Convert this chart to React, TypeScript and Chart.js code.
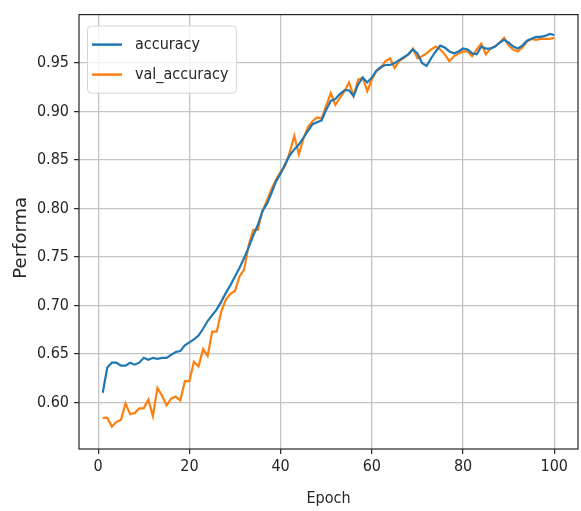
import React, { useEffect, useRef } from "react";
import { Chart, registerables } from "chart.js";

Chart.register(...registerables);

const epochs = [
  1, 2, 3, 4, 5, 6, 7, 8, 9, 10,
  11, 12, 13, 14, 15, 16, 17, 18, 19, 20,
  21, 22, 23, 24, 25, 26, 27, 28, 29, 30,
  31, 32, 33, 34, 35, 36, 37, 38, 39, 40,
  41, 42, 43, 44, 45, 46, 47, 48, 49, 50,
  51, 52, 53, 54, 55, 56, 57, 58, 59, 60,
  61, 62, 63, 64, 65, 66, 67, 68, 69, 70,
  71, 72, 73, 74, 75, 76, 77, 78, 79, 80,
  81, 82, 83, 84, 85, 86, 87, 88, 89, 90,
  91, 92, 93, 94, 95, 96, 97, 98, 99, 100,
];

const accuracy = [
  0.610, 0.636, 0.641, 0.641, 0.638, 0.638, 0.641, 0.639, 0.641, 0.646,
  0.644, 0.646, 0.645, 0.646, 0.646, 0.649, 0.652, 0.653, 0.659, 0.662,
  0.665, 0.669, 0.676, 0.684, 0.690, 0.696, 0.704, 0.713, 0.721, 0.730,
  0.739, 0.749, 0.760, 0.772, 0.783, 0.797, 0.805, 0.816, 0.828, 0.836,
  0.846, 0.855, 0.861, 0.866, 0.873, 0.880, 0.887, 0.889, 0.891, 0.902,
  0.911, 0.913, 0.918, 0.922, 0.922, 0.916, 0.928, 0.935, 0.930, 0.935,
  0.942, 0.946, 0.948, 0.948, 0.950, 0.953, 0.956, 0.959, 0.964, 0.960,
  0.950, 0.947, 0.955, 0.962, 0.968, 0.966, 0.962, 0.960, 0.962, 0.965,
  0.964, 0.960, 0.959, 0.967, 0.965, 0.965, 0.967, 0.971, 0.974, 0.971,
  0.967, 0.965, 0.968, 0.973, 0.975, 0.977, 0.977, 0.978, 0.980, 0.979,
];

const valAccuracy = [
  0.584, 0.584, 0.575, 0.580, 0.582, 0.599, 0.588, 0.589, 0.594, 0.594,
  0.603, 0.586, 0.615, 0.607, 0.597, 0.604, 0.606, 0.602, 0.622, 0.622,
  0.642, 0.637, 0.655, 0.648, 0.673, 0.673, 0.694, 0.706, 0.712, 0.715,
  0.730, 0.737, 0.762, 0.778, 0.778, 0.797, 0.808, 0.820, 0.830, 0.838,
  0.844, 0.858, 0.875, 0.856, 0.872, 0.884, 0.890, 0.894, 0.893, 0.906,
  0.919, 0.907, 0.914, 0.921, 0.930, 0.916, 0.933, 0.935, 0.921, 0.933,
  0.942, 0.945, 0.952, 0.955, 0.945, 0.952, 0.955, 0.959, 0.965, 0.955,
  0.957, 0.960, 0.964, 0.967, 0.964, 0.959, 0.952, 0.957, 0.960, 0.962,
  0.962, 0.957, 0.964, 0.970, 0.959, 0.965, 0.967, 0.971, 0.976, 0.968,
  0.964, 0.962, 0.966, 0.972, 0.975, 0.974, 0.975, 0.975, 0.975, 0.976,
];

const seriesLabels = ["accuracy", "val_accuracy"];
const seriesColors = ["#1f77b4", "#ff7f0e"];
const xTicks = [0, 20, 40, 60, 80, 100];
const yTicks = [0.6, 0.65, 0.7, 0.75, 0.8, 0.85, 0.9, 0.95];
const xTitle = "Epoch";
const yTitle = "Performa";

const TEXT = "#262626";
const FONT = '"DejaVu Sans Condensed", "DejaVu Sans", sans-serif';

const decorPlugin = {
  id: "decor",
  afterDraw(chart: any) {
    const { ctx, chartArea: a } = chart;
    ctx.save();
    // frame
    ctx.strokeStyle = TEXT;
    ctx.lineWidth = 1.2;
    ctx.strokeRect(a.left, a.top, a.right - a.left, a.bottom - a.top);

    // axis titles
    ctx.fillStyle = TEXT;
    ctx.textAlign = "center";
    ctx.textBaseline = "middle";
    ctx.font = `16px ${FONT}`;
    ctx.fillText(xTitle, (a.left + a.right) / 2, a.bottom + 50);
    ctx.save();
    ctx.translate(21, (a.top + a.bottom) / 2 + 6);
    ctx.rotate(-Math.PI / 2);
    ctx.font = `18px "DejaVu Sans", sans-serif`;
    ctx.fillText(yTitle, 0, 0);
    ctx.restore();

    // legend
    const lx = a.left + 8;
    const ly = a.top + 11;
    const lw = 149;
    const lh = 67;
    ctx.beginPath();
    (ctx as any).roundRect(lx + 0.5, ly + 0.5, lw, lh, 4);
    ctx.fillStyle = "rgba(255,255,255,0.8)";
    ctx.fill();
    ctx.strokeStyle = "#d6d6d6";
    ctx.lineWidth = 1;
    ctx.stroke();
    ctx.font = `16px ${FONT}`;
    ctx.textAlign = "left";
    seriesLabels.forEach((lab, i) => {
      const yy = ly + 19 + i * 30;
      ctx.strokeStyle = seriesColors[i];
      ctx.lineWidth = 2.5;
      ctx.beginPath();
      ctx.moveTo(lx + 5, yy);
      ctx.lineTo(lx + 35, yy);
      ctx.stroke();
      ctx.fillStyle = TEXT;
      ctx.fillText(lab, lx + 48, yy);
    });
    ctx.restore();
  },
};

export default function App() {
  const ref = useRef<HTMLCanvasElement | null>(null);

  useEffect(() => {
    document.body.style.margin = "0";
    const canvas = ref.current;
    if (!canvas) return;
    const gridCommon = {
      color: "#c4c4c4",
      lineWidth: 1.3,
      tickColor: TEXT,
      tickLength: 5,
      tickWidth: 1.2,
    };
    const chart = new Chart(canvas, {
      type: "line",
      data: {
        datasets: [
          {
            label: seriesLabels[0],
            data: epochs.map((e, i) => ({ x: e, y: accuracy[i] })),
            borderColor: seriesColors[0],
            backgroundColor: seriesColors[0],
            borderWidth: 2.2,
            pointRadius: 0,
            tension: 0,
            fill: false,
          },
          {
            label: seriesLabels[1],
            data: epochs.map((e, i) => ({ x: e, y: valAccuracy[i] })),
            borderColor: seriesColors[1],
            backgroundColor: seriesColors[1],
            borderWidth: 2.2,
            pointRadius: 0,
            tension: 0,
            fill: false,
          },
        ],
      },
      options: {
        animation: false,
        responsive: false,
        maintainAspectRatio: false,
        devicePixelRatio: 1,
        layout: { padding: { top: 11, right: 3, left: 0, bottom: 0 } },
        plugins: {
          legend: { display: false },
          tooltip: { enabled: false },
        },
        scales: {
          x: {
            type: "linear",
            min: -4.2,
            max: 105.2,
            afterBuildTicks: (s: any) => {
              s.ticks = xTicks.map((v) => ({ value: v }));
            },
            afterFit: (s: any) => {
              s.height = 62;
            },
            grid: gridCommon,
            border: { display: false },
            ticks: {
              color: TEXT,
              font: { family: FONT, size: 16 },
              padding: 3,
              maxRotation: 0,
              autoSkip: false,
              callback: (v: any) => String(v),
            },
          },
          y: {
            type: "linear",
            min: 0.552,
            max: 1.0,
            afterBuildTicks: (s: any) => {
              s.ticks = yTicks.map((v) => ({ value: v }));
            },
            afterFit: (s: any) => {
              s.width = 79;
            },
            grid: gridCommon,
            border: { display: false },
            ticks: {
              color: TEXT,
              font: { family: FONT, size: 16 },
              padding: 5,
              autoSkip: false,
              callback: (v: any) => Number(v).toFixed(2),
            },
          },
        },
      },
      plugins: [decorPlugin],
    });
    return () => chart.destroy();
  }, []);

  return (
    <div style={{ position: "absolute", left: 0, top: 0, width: 581, height: 511, background: "#fff" }}>
      <canvas ref={ref} width={581} height={511} style={{ display: "block" }} />
    </div>
  );
}
